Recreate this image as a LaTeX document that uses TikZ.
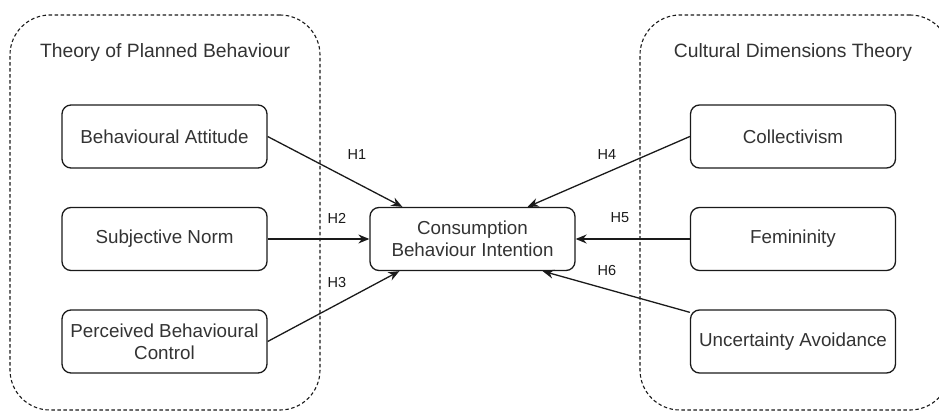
\documentclass[tikz,border=0pt]{standalone}
\usepackage{fontspec}
\setmainfont{Liberation Sans}
\usetikzlibrary{positioning, arrows.meta}
\definecolor{txtgrey}{HTML}{333333}
\definecolor{edgegrey}{HTML}{1A1A1A}

\begin{document}
\begin{tikzpicture}[x=1pt, y=-1pt, line width=1.3pt,
    factor/.style={draw=edgegrey, rounded corners=9pt, minimum width=205pt,
      minimum height=63pt, align=center, inner sep=2pt,
      font=\fontsize{18.8}{22}\selectfont, text=txtgrey},
    theory/.style={draw=edgegrey, dash pattern=on 3.5pt off 2.5pt,
      rounded corners=40pt, line width=1.1pt},
    heading/.style={font=\fontsize{19.3}{23}\selectfont, text=txtgrey},
    hyp/.style={draw=edgegrey, -{Stealth[length=11pt, width=9pt]}},
    hlabel/.style={font=\fontsize{14.5}{17}\selectfont, text=edgegrey}]
  \useasboundingbox (0,0) rectangle (939,411);
  % theory frames
  \node[theory, minimum width=310pt, minimum height=395pt] (tpb) at (165,212.5) {};
  \node[theory, minimum width=310pt, minimum height=395pt] (cdt) at (795,212.5) {};
  \node[heading] (tpbtitle) at (165,53) {Theory of Planned Behaviour};
  \node[heading] (cdttitle) at (793,53) {Cultural Dimensions Theory};
  % factors
  \node[factor] (att) at (164.5,136.5) {Behavioural Attitude};
  \node[factor] (norm) at (164.5,239) {Subjective Norm};
  \node[factor] (pbc) at (164.5,341.5) {Perceived Behavioural\\Control};
  \node[factor] (col) at (793,136.5) {Collectivism};
  \node[factor] (fem) at (793,239) {Femininity};
  \node[factor] (unc) at (793,341.5) {Uncertainty Avoidance};
  \node[factor] (cbi) at (472.5,239) {Consumption\\Behaviour Intention};
  % hypotheses
  \draw[hyp] (att.east) -- ([xshift=33pt]cbi.north west);
  \draw[hyp] (norm) -- (cbi);
  \draw[hyp] (pbc.east) -- ([xshift=30pt]cbi.south west);
  \draw[hyp] (col.west) -- ([xshift=-48pt]cbi.north east);
  \draw[hyp] (fem) -- (cbi);
  \draw[hyp] ([yshift=-3pt]unc.north west) -- ([xshift=-33pt]cbi.south east);
  \node[hlabel] (h1) at (357,155) {H1};
  \node[hlabel] (h2) at (337,218) {H2};
  \node[hlabel] (h3) at (337,283) {H3};
  \node[hlabel] (h4) at (607,155) {H4};
  \node[hlabel] (h5) at (620,218) {H5};
  \node[hlabel] (h6) at (607,271) {H6};
\end{tikzpicture}
\end{document}
